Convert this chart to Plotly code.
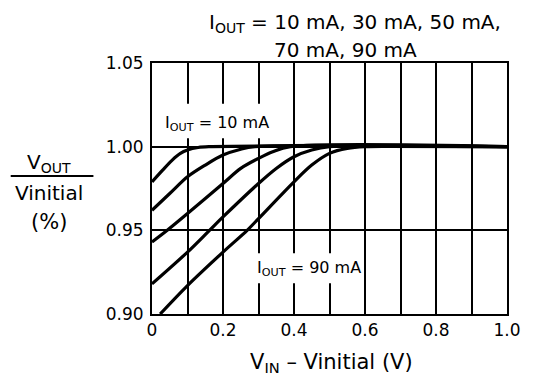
import plotly.graph_objects as go

# Data
currents = ["10 mA", "30 mA", "50 mA", "70 mA", "90 mA"]
x_10 = [0.0, 0.03, 0.057, 0.08, 0.10, 0.13, 0.16, 1.0]
y_10 = [0.979, 0.986, 0.992, 0.996, 0.998, 0.9995, 1.0, 1.0]
x_30 = [0.0, 0.05, 0.10, 0.15, 0.20, 0.25, 0.29, 1.0]
y_30 = [0.962, 0.972, 0.982, 0.989, 0.995, 0.9985, 1.0, 1.0]
x_50 = [0.0, 0.043, 0.10, 0.20, 0.25, 0.30, 0.34, 0.39, 1.0]
y_50 = [0.943, 0.950, 0.960, 0.978, 0.987, 0.993, 0.997, 1.0, 1.0]
x_70 = [0.0, 0.10, 0.162, 0.20, 0.30, 0.35, 0.40, 0.45, 0.50, 1.0]
y_70 = [0.918, 0.937, 0.950, 0.958, 0.978, 0.987, 0.994, 0.998, 1.0, 1.0]
x_90 = [0.023, 0.10, 0.20, 0.268, 0.30, 0.40, 0.45, 0.50, 0.55, 0.60, 1.0]
y_90 = [0.900, 0.917, 0.937, 0.950, 0.957, 0.979, 0.989, 0.996, 0.999, 1.0, 1.0]

series_x = [x_10, x_30, x_50, x_70, x_90]
series_y = [y_10, y_30, y_50, y_70, y_90]

x_ticks = [0, 0.2, 0.4, 0.6, 0.8, 1.0]
x_tick_text = ["0", "0.2", "0.4", "0.6", "0.8", "1.0"]
y_ticks = [0.90, 0.95, 1.00, 1.05]
y_tick_text = ["0.90", "0.95", "1.00", "1.05"]

FONT = "DejaVu Sans"
fig = go.Figure()
for name, xs, ys in zip(currents, series_x, series_y):
    fig.add_trace(go.Scatter(x=xs, y=ys, mode="lines", name=name,
                             line=dict(color="black", width=3.2, shape="spline", smoothing=0.9),
                             showlegend=False, hoverinfo="skip"))

fig.update_layout(
    width=533, height=376,
    margin=dict(l=152, r=17, t=63, b=62),
    paper_bgcolor="white", plot_bgcolor="white",
    font=dict(family=FONT, size=17, color="black"),
)
fig.update_xaxes(range=[0, 1.0], tickvals=x_ticks, ticktext=x_tick_text,
                 showgrid=True, gridcolor="black", gridwidth=1.8,
                 showline=True, linecolor="black", linewidth=2, mirror=True,
                 ticks="", zeroline=False, tickfont=dict(size=17))
fig.update_xaxes(minor=dict(tickvals=[0.1, 0.3, 0.5, 0.7, 0.9], showgrid=True,
                            gridcolor="black", gridwidth=1.8))
fig.update_yaxes(range=[0.90, 1.05], tickvals=y_ticks, ticktext=y_tick_text,
                 showgrid=True, gridcolor="black", gridwidth=2,
                 showline=True, linecolor="black", linewidth=2, mirror=True,
                 ticks="", zeroline=False, tickfont=dict(size=17),
                 ticklabelstandoff=3)

# white patches behind in-plot labels (over gridlines, under curves)
fig.add_shape(type="rect", xref="x", yref="y", x0=0.02, x1=0.33, y0=1.0050, y1=1.0256,
              fillcolor="white", line=dict(width=0), layer="between")
fig.add_shape(type="rect", xref="x", yref="y", x0=0.27, x1=0.57, y0=0.9184, y1=0.9363,
              fillcolor="white", line=dict(width=0), layer="between")

fig.add_annotation(x=0.03, y=1.0139, xref="x", yref="y", xanchor="left", yanchor="middle",
                   text="I<sub>OUT</sub> = 10 mA", showarrow=False, font=dict(size=16))
fig.add_annotation(x=0.29, y=0.9274, xref="x", yref="y", xanchor="left", yanchor="middle",
                   text="I<sub>OUT</sub> = 90 mA", showarrow=False, font=dict(size=16))

# title lines
fig.add_annotation(x=0.571, y=1.159, xref="paper", yref="paper", xanchor="center", yanchor="middle",
                   text="I<sub>OUT</sub> = 10 mA, 30 mA, 50 mA,", showarrow=False, font=dict(size=20))
fig.add_annotation(x=0.544, y=1.052, xref="paper", yref="paper", xanchor="center", yanchor="middle",
                   text="70 mA, 90 mA", showarrow=False, font=dict(size=20))

# y-axis title (fraction)
fig.add_annotation(x=-0.29, y=0.602, xref="paper", yref="paper", xanchor="center", yanchor="middle",
                   text="V<sub>OUT</sub>", showarrow=False, font=dict(size=20))
fig.add_shape(type="line", xref="paper", yref="paper", x0=-0.398, x1=-0.165, y0=0.550, y1=0.550,
              line=dict(color="black", width=2))
fig.add_annotation(x=-0.29, y=0.484, xref="paper", yref="paper", xanchor="center", yanchor="middle",
                   text="Vinitial", showarrow=False, font=dict(size=20))
fig.add_annotation(x=-0.29, y=0.365, xref="paper", yref="paper", xanchor="center", yanchor="middle",
                   text="(%)", showarrow=False, font=dict(size=21))

# x-axis title
fig.add_annotation(x=0.505, y=-0.195, xref="paper", yref="paper", xanchor="center", yanchor="middle",
                   text="V<sub>IN</sub> – Vinitial (V)", showarrow=False, font=dict(size=21))

fig.write_html("out.html", config={"displayModeBar": False},
               post_script="document.body.style.margin='0';document.body.style.overflow='hidden';")
